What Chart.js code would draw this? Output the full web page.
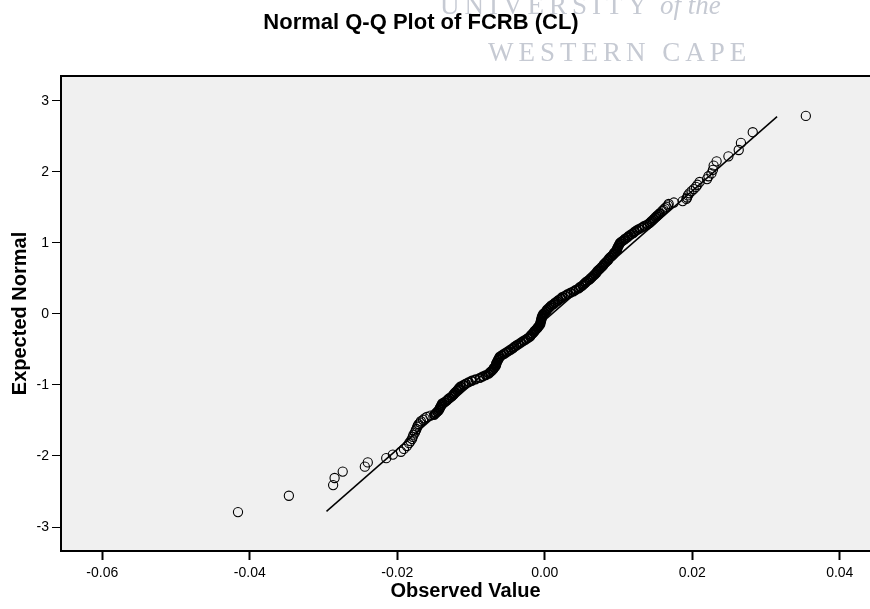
<!DOCTYPE html>
<html>
<head>
<meta charset="utf-8">
<title>Normal Q-Q Plot of FCRB (CL)</title>
<script src="https://cdn.jsdelivr.net/npm/chart.js@4.4.1/dist/chart.umd.min.js"></script>
<style>
  html, body { margin: 0; padding: 0; background: #fff; overflow: hidden; }
  #wrap { width: 870px; height: 609px; }
</style>
</head>
<body>
<div id="wrap"><canvas id="qq"></canvas></div>
<script>
// === DATOS ===
const titulo = 'Normal Q-Q Plot of FCRB (CL)';
const tituloX = 'Observed Value';
const tituloY = 'Expected Normal';

// cola inferior, un punto por observacion
const colaBajaObs = [-0.0416, -0.0347, -0.0287, -0.0285, -0.0274, -0.0244, -0.0240, -0.0215, -0.0206, -0.0195,
  -0.0191, -0.0187, -0.0184, -0.0182, -0.0180, -0.0179, -0.0178, -0.0176, -0.0175, -0.0174,
  -0.0173, -0.0172, -0.0171, -0.0169, -0.0168, -0.0165, -0.0163, -0.0160, -0.0155];
const colaBajaEsp = [-2.79, -2.56, -2.41, -2.31, -2.22, -2.15, -2.09, -2.03, -1.98, -1.94,
  -1.90, -1.86, -1.82, -1.79, -1.76, -1.73, -1.70, -1.67, -1.64, -1.62,
  -1.59, -1.57, -1.55, -1.53, -1.51, -1.49, -1.47, -1.45, -1.43];

// tramo central (banda densa)
const centroObs = [-0.0150, -0.0148, -0.0146, -0.0144, -0.0143, -0.0142, -0.0141, -0.0140, -0.0139, -0.0136,
  -0.0133, -0.0131, -0.0129, -0.0126, -0.0124, -0.0123, -0.0121, -0.0119, -0.0117, -0.0116,
  -0.0114, -0.0110, -0.0107, -0.0103, -0.0099, -0.0094, -0.0088, -0.0084, -0.0080, -0.0076,
  -0.0074, -0.0072, -0.0070, -0.0069, -0.0067, -0.0066, -0.0066, -0.0065, -0.0064, -0.0063,
  -0.0062, -0.0061, -0.0058, -0.0055, -0.0052, -0.0049, -0.0046, -0.0043, -0.0041, -0.0038,
  -0.0035, -0.0032, -0.0029, -0.0026, -0.0023, -0.0020, -0.0019, -0.0017, -0.0015, -0.0014,
  -0.0012, -0.0010, -0.0009, -0.0007, -0.0006, -0.0006, -0.0005, -0.0005, -0.0004, -0.0004,
  -0.0003, -0.0002, 0.0000, 0.0002, 0.0003, 0.0005, 0.0007, 0.0009, 0.0012, 0.0014,
  0.0017, 0.0019, 0.0022, 0.0024, 0.0028, 0.0031, 0.0035, 0.0039, 0.0042, 0.0046,
  0.0048, 0.0051, 0.0053, 0.0055, 0.0057, 0.0060, 0.0062, 0.0064, 0.0066, 0.0068,
  0.0070, 0.0071, 0.0073, 0.0075, 0.0077, 0.0079, 0.0080, 0.0082, 0.0084, 0.0086,
  0.0087, 0.0089, 0.0091, 0.0093, 0.0094, 0.0096, 0.0098, 0.0098, 0.0099, 0.0100,
  0.0101, 0.0102, 0.0104, 0.0107, 0.0109, 0.0112, 0.0114, 0.0117, 0.0120, 0.0122,
  0.0125, 0.0128, 0.0132, 0.0135, 0.0139, 0.0142, 0.0144, 0.0146, 0.0148, 0.0150,
  0.0152, 0.0154, 0.0156];
const centroEsp = [-1.42, -1.40, -1.38, -1.36, -1.34, -1.32, -1.30, -1.28, -1.26, -1.24,
  -1.22, -1.20, -1.18, -1.16, -1.14, -1.12, -1.10, -1.08, -1.06, -1.04,
  -1.02, -1.00, -0.98, -0.96, -0.94, -0.92, -0.90, -0.88, -0.86, -0.84,
  -0.82, -0.80, -0.78, -0.76, -0.74, -0.72, -0.70, -0.68, -0.66, -0.64,
  -0.62, -0.60, -0.58, -0.56, -0.54, -0.52, -0.50, -0.48, -0.46, -0.44,
  -0.42, -0.40, -0.38, -0.36, -0.34, -0.32, -0.30, -0.28, -0.26, -0.24,
  -0.22, -0.20, -0.18, -0.16, -0.14, -0.12, -0.10, -0.08, -0.06, -0.04,
  -0.02, 0.00, 0.02, 0.04, 0.06, 0.08, 0.10, 0.12, 0.14, 0.16,
  0.18, 0.20, 0.22, 0.24, 0.26, 0.28, 0.30, 0.32, 0.34, 0.36,
  0.38, 0.40, 0.42, 0.44, 0.46, 0.48, 0.50, 0.52, 0.54, 0.56,
  0.58, 0.60, 0.62, 0.64, 0.66, 0.68, 0.70, 0.72, 0.74, 0.76,
  0.78, 0.80, 0.82, 0.84, 0.86, 0.88, 0.90, 0.92, 0.94, 0.96,
  0.98, 1.00, 1.02, 1.04, 1.06, 1.08, 1.10, 1.12, 1.14, 1.16,
  1.18, 1.20, 1.22, 1.24, 1.26, 1.28, 1.30, 1.32, 1.34, 1.36,
  1.38, 1.40, 1.42];

// cola superior
const colaAltaObs = [0.0159, 0.0161, 0.0163, 0.0165, 0.0167, 0.0168, 0.0175, 0.0187, 0.0192, 0.0193,
  0.0194, 0.0196, 0.0199, 0.0202, 0.0205, 0.0207, 0.0210, 0.0220, 0.0222, 0.0226,
  0.0228, 0.0229, 0.0233, 0.0249, 0.0263, 0.0266, 0.0282, 0.0354];
const colaAltaEsp = [1.45, 1.47, 1.49, 1.51, 1.53, 1.55, 1.57, 1.59, 1.62, 1.64,
  1.67, 1.70, 1.73, 1.76, 1.79, 1.82, 1.86, 1.90, 1.94, 1.98,
  2.03, 2.09, 2.15, 2.22, 2.31, 2.41, 2.56, 2.79];

// recta de referencia
const rectaObs = [-0.0296, 0.0315];
const rectaEsp = [-2.78, 2.78];

// ticks
const ticksX = [-0.06, -0.04, -0.02, 0.00, 0.02, 0.04];
const ticksY = [-3, -2, -1, 0, 1, 2, 3];

// === PREPARAR PUNTOS ===
const aPuntos = (xs, ys) => xs.map((x, i) => ({ x, y: ys[i] }));
const colas = aPuntos(colaBajaObs, colaBajaEsp).concat(aPuntos(colaAltaObs, colaAltaEsp));
const centro = aPuntos(centroObs, centroEsp);
const recta = aPuntos(rectaObs, rectaEsp);

const fuente = '"Liberation Sans", Arial, Helvetica, sans-serif';

// === FONDO, MARCA DE AGUA Y TITULO ===
const decorado = {
  id: 'decorado',
  beforeDraw(chart) {
    const { ctx, chartArea: a } = chart;
    ctx.save();
    ctx.fillStyle = '#f0f0f0';
    ctx.fillRect(a.left, a.top, a.right - a.left, a.bottom - a.top);

    ctx.fillStyle = '#c6cad3';
    ctx.textBaseline = 'alphabetic';
    ctx.font = '27px "Liberation Serif", "Times New Roman", serif';
    ctx.letterSpacing = '5px';
    ctx.fillText('UNIVERSITY', 440, 14);
    ctx.fillText('WESTERN CAPE', 488, 61);
    ctx.letterSpacing = '0px';
    ctx.font = 'italic 27px "Liberation Serif", "Times New Roman", serif';
    ctx.fillText('of the', 660, 14);

    ctx.fillStyle = '#000';
    ctx.font = 'bold 22px ' + fuente;
    ctx.textAlign = 'center';
    ctx.textBaseline = 'middle';
    ctx.fillText(titulo, 421, 23);
    ctx.restore();
  },
  afterDraw(chart) {
    const { ctx, chartArea: a } = chart;
    ctx.save();
    ctx.strokeStyle = '#000';
    ctx.lineWidth = 2;
    ctx.beginPath();
    ctx.moveTo(a.left - 1, a.top);
    ctx.lineTo(a.right, a.top);
    ctx.stroke();
    ctx.restore();
  }
};

const estiloPunto = {
  pointBorderColor: '#000',
  pointBackgroundColor: 'rgba(0,0,0,0)',
  showLine: false
};

// === GRAFICO ===
new Chart(document.getElementById('qq'), {
  type: 'scatter',
  data: {
    datasets: [
      {
        label: 'Recta',
        type: 'line',
        data: recta,
        borderColor: '#000',
        borderWidth: 1.5,
        pointRadius: 0,
        fill: false,
        showLine: true
      },
      Object.assign({ label: 'Colas', data: colas, pointRadius: 4.6, pointBorderWidth: 1.1 }, estiloPunto),
      Object.assign({ label: 'Centro', data: centro, pointRadius: 4.2, pointBorderWidth: 1.9 }, estiloPunto)
    ]
  },
  options: {
    responsive: true,
    maintainAspectRatio: false,
    animation: false,
    devicePixelRatio: 1,
    layout: { autoPadding: false, padding: { top: 76, left: 0, right: 0, bottom: 0 } },
    plugins: {
      legend: { display: false },
      tooltip: { enabled: false }
    },
    scales: {
      x: {
        type: 'linear',
        min: -0.0656,
        max: 0.0441,
        afterBuildTicks: s => { s.ticks = ticksX.map(v => ({ value: v })); },
        afterFit: s => { s.height = 58; },
        ticks: {
          callback: v => v.toFixed(2),
          color: '#000',
          font: { family: fuente, size: 14 },
          padding: 5,
          maxRotation: 0,
          autoSkip: false
        },
        grid: { drawOnChartArea: false, drawTicks: true, tickLength: 9, tickWidth: 2, tickColor: '#000' },
        border: { display: true, color: '#000', width: 2 },
        title: {
          display: true,
          text: tituloX,
          color: '#000',
          font: { family: fuente, size: 20, weight: 'bold' },
          padding: { top: 0, bottom: 6 }
        }
      },
      y: {
        type: 'linear',
        min: -3.338,
        max: 3.352,
        afterBuildTicks: s => { s.ticks = ticksY.map(v => ({ value: v })); },
        afterFit: s => { s.width = 61; },
        ticks: {
          callback: v => String(v),
          color: '#000',
          font: { family: fuente, size: 14 },
          padding: 3
        },
        grid: { drawOnChartArea: false, drawTicks: true, tickLength: 9, tickWidth: 1, tickColor: '#000' },
        border: { display: true, color: '#000', width: 2 },
        title: {
          display: true,
          text: tituloY,
          color: '#000',
          font: { family: fuente, size: 20, weight: 'bold' },
          padding: { top: 8, bottom: 0 }
        }
      }
    }
  },
  plugins: [decorado]
});
</script>
</body>
</html>
